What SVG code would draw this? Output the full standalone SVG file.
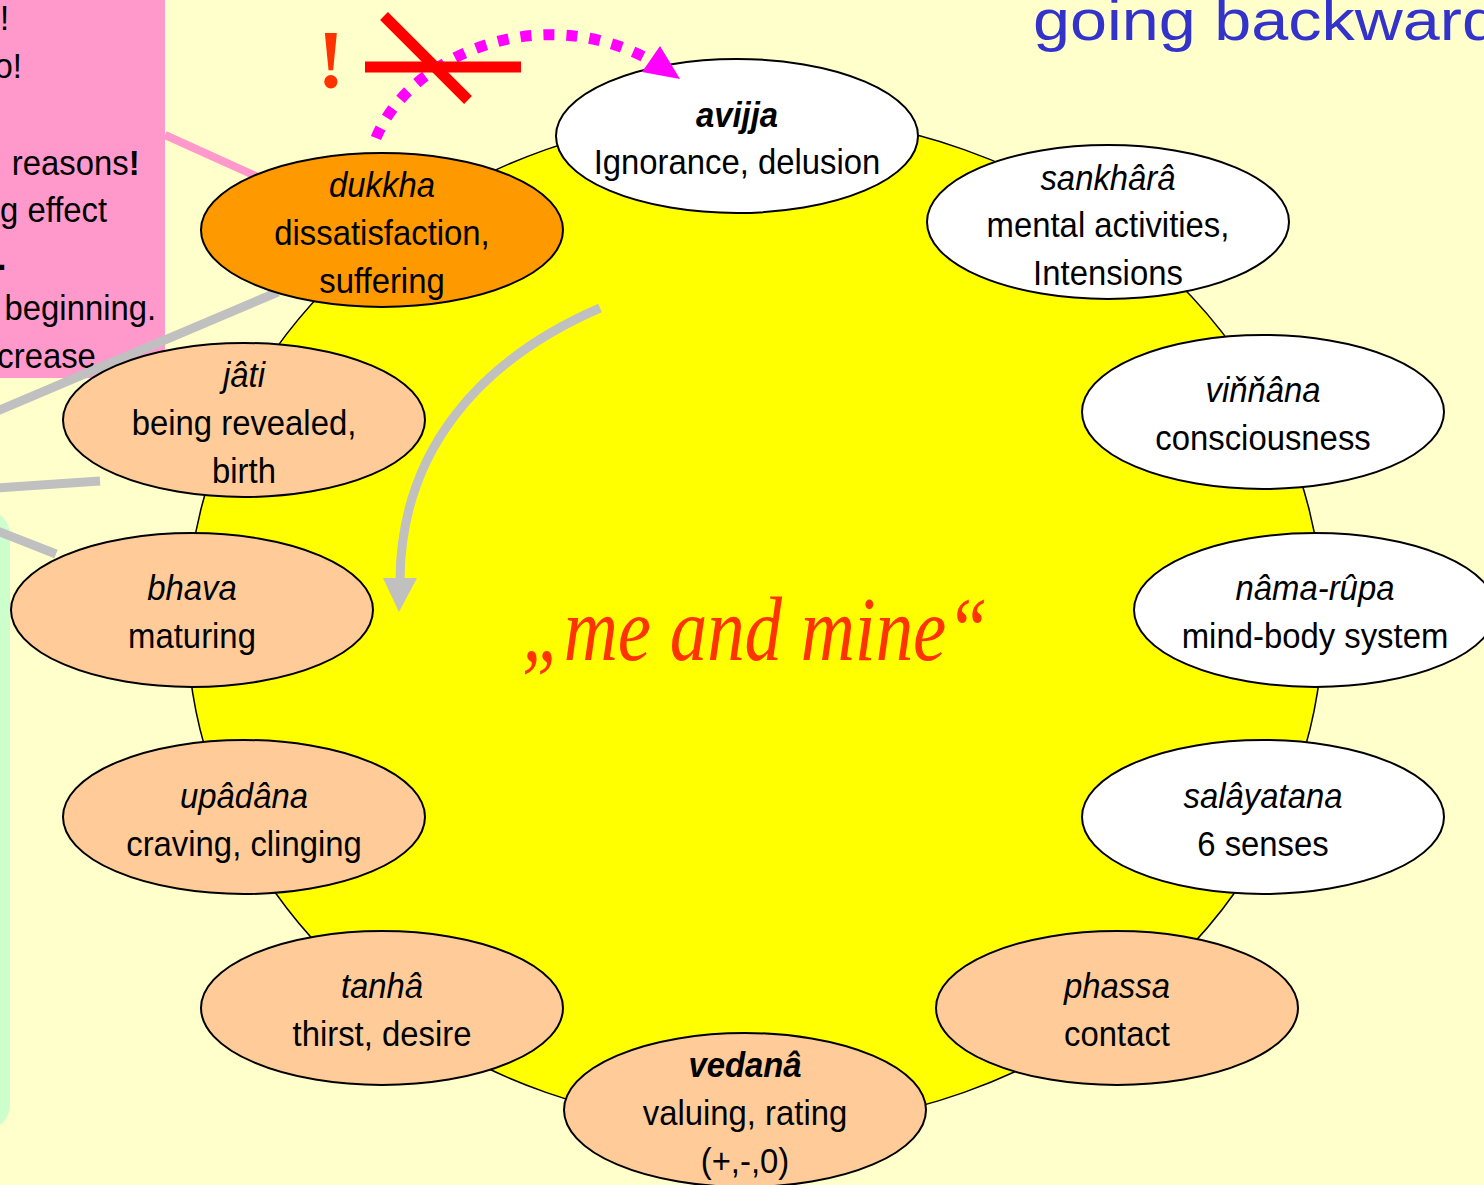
<svg xmlns="http://www.w3.org/2000/svg" width="1484" height="1185" viewBox="0 0 1484 1185">
  <style>
    .bg { fill: #FFFFCC; }
    .node ellipse { stroke: #000; stroke-width: 2; }
    .white { fill: #FFFFFF; }
    .peach { fill: #FFCC99; }
    .orange { fill: #FF9900; }
    .lbl { font-family: "Liberation Sans", Arial, sans-serif; font-size: 36px; fill: #000; text-anchor: middle; }
    .it { font-style: italic; }
    .bi { font-style: italic; font-weight: bold; }
    .note { font-family: "Liberation Sans", Arial, sans-serif; font-size: 36px; fill: #000; }
    .gray { stroke: #C0C0C0; stroke-width: 9; fill: none; }
  </style>

  <rect class="bg" x="0" y="0" width="1484" height="1185"/>

  <!-- side panels -->
  <rect id="greenPanel" x="-40" y="510" width="50" height="620" rx="25" fill="#CCFFCC"/>
  <g id="noteBox">
    <rect x="-40" y="-40" width="205" height="418" rx="30" fill="#FF99CC"/>
    <g transform="scale(0.913,1)">
      <text class="note" x="0" y="30">!</text>
      <text class="note" x="-6" y="78">o!</text>
      <text class="note" x="13" y="175">reasons<tspan font-weight="bold">!</tspan></text>
      <text class="note" x="0" y="222">g effect</text>
      <text class="note" x="-3" y="270" font-weight="bold">.</text>
      <text class="note" x="5" y="320">beginning.</text>
      <text class="note" x="-3" y="368">crease</text>
    </g>
  </g>

  <!-- central field -->
  <ellipse id="field" cx="755" cy="621" rx="568" ry="507" fill="#FFFF00" stroke="#000" stroke-width="1.5"/>

  <!-- connectors drawn beneath the nodes -->
  <g id="connectors">
    <line x1="165" y1="135" x2="258" y2="177" stroke="#FF99CC" stroke-width="8"/>
    <line class="gray" x1="-5" y1="412" x2="278" y2="292"/>
    <line class="gray" x1="-5" y1="488" x2="100" y2="481"/>
    <line class="gray" x1="-5" y1="530" x2="56" y2="554"/>
    <path class="gray" d="M600,308 C480,360 401,450 400,580"/>
    <path d="M383,578 L417,578 L399,612 Z" fill="#C0C0C0"/>
  </g>

  <!-- title -->
  <text x="1033" y="40" font-family="Liberation Sans, Arial, sans-serif" font-size="57" fill="#3333CC" textLength="466" lengthAdjust="spacingAndGlyphs">going backward</text>

  <!-- centre caption -->
  <text x="755" y="660" font-family="Liberation Serif, Times New Roman, serif" font-style="italic" font-size="92" fill="#FF3300" text-anchor="middle" textLength="466" lengthAdjust="spacingAndGlyphs">„me and mine“</text>

  <!-- nodes -->
  <g id="avijja" class="node" transform="translate(737,136)">
    <ellipse class="white" rx="181" ry="77"/>
    <text class="lbl" transform="scale(0.913,1)"><tspan class="bi" x="0" y="-9">avijja</tspan><tspan x="0" y="38">Ignorance, delusion</tspan></text>
  </g>
  <g id="sankhara" class="node" transform="translate(1108,222)">
    <ellipse class="white" rx="181" ry="77"/>
    <text class="lbl" transform="scale(0.913,1)"><tspan class="it" x="0" y="-32">sankhârâ</tspan><tspan x="0" y="15">mental activities,</tspan><tspan x="0" y="63">Intensions</tspan></text>
  </g>
  <g id="vinnana" class="node" transform="translate(1263,412)">
    <ellipse class="white" rx="181" ry="77"/>
    <text class="lbl" transform="scale(0.913,1)"><tspan class="it" x="0" y="-10">viňňâna</tspan><tspan x="0" y="38">consciousness</tspan></text>
  </g>
  <g id="namarupa" class="node" transform="translate(1315,610)">
    <ellipse class="white" rx="181" ry="77"/>
    <text class="lbl" transform="scale(0.913,1)"><tspan class="it" x="0" y="-10">nâma-rûpa</tspan><tspan x="0" y="38">mind-body system</tspan></text>
  </g>
  <g id="salayatana" class="node" transform="translate(1263,817)">
    <ellipse class="white" rx="181" ry="77"/>
    <text class="lbl" transform="scale(0.913,1)"><tspan class="it" x="0" y="-9">salâyatana</tspan><tspan x="0" y="39">6 senses</tspan></text>
  </g>
  <g id="phassa" class="node" transform="translate(1117,1008)">
    <ellipse class="peach" rx="181" ry="77"/>
    <text class="lbl" transform="scale(0.913,1)"><tspan class="it" x="0" y="-10">phassa</tspan><tspan x="0" y="38">contact</tspan></text>
  </g>
  <g id="vedana" class="node" transform="translate(745,1110)">
    <ellipse class="peach" rx="181" ry="77"/>
    <text class="lbl" transform="scale(0.913,1)"><tspan class="bi" x="0" y="-33">vedanâ</tspan><tspan x="0" y="15">valuing, rating</tspan><tspan x="0" y="63">(+,-,0)</tspan></text>
  </g>
  <g id="tanha" class="node" transform="translate(382,1008)">
    <ellipse class="peach" rx="181" ry="77"/>
    <text class="lbl" transform="scale(0.913,1)"><tspan class="it" x="0" y="-10">tanhâ</tspan><tspan x="0" y="38">thirst, desire</tspan></text>
  </g>
  <g id="upadana" class="node" transform="translate(244,817)">
    <ellipse class="peach" rx="181" ry="77"/>
    <text class="lbl" transform="scale(0.913,1)"><tspan class="it" x="0" y="-9">upâdâna</tspan><tspan x="0" y="39">craving, clinging</tspan></text>
  </g>
  <g id="bhava" class="node" transform="translate(192,610)">
    <ellipse class="peach" rx="181" ry="77"/>
    <text class="lbl" transform="scale(0.913,1)"><tspan class="it" x="0" y="-10">bhava</tspan><tspan x="0" y="38">maturing</tspan></text>
  </g>
  <g id="jati" class="node" transform="translate(244,420)">
    <ellipse class="peach" rx="181" ry="77"/>
    <text class="lbl" transform="scale(0.913,1)"><tspan class="it" x="0" y="-33">jâti</tspan><tspan x="0" y="15">being revealed,</tspan><tspan x="0" y="63">birth</tspan></text>
  </g>
  <g id="dukkha" class="node" transform="translate(382,230)">
    <ellipse class="orange" rx="181" ry="77"/>
    <text class="lbl" transform="scale(0.913,1)"><tspan class="it" x="0" y="-33">dukkha</tspan><tspan x="0" y="15">dissatisfaction,</tspan><tspan x="0" y="63">suffering</tspan></text>
  </g>

  <!-- crossed-out shortcut from dukkha back to avijja, drawn over the nodes -->
  <g id="shortcut">
    <path d="M376,138 C410,55 540,0 650,60" fill="none" stroke="#FF00FF" stroke-width="11" stroke-dasharray="11 12"/>
    <path d="M680,79 L660,46 L642,72 Z" fill="#FF00FF"/>
    <line x1="365" y1="67" x2="521" y2="67" stroke="#FF0000" stroke-width="11"/>
    <line x1="384" y1="16" x2="468" y2="100" stroke="#FF0000" stroke-width="11"/>
    <text x="331" y="87" font-family="Liberation Serif, Times New Roman, serif" font-weight="bold" font-size="82" fill="#FF3300" text-anchor="middle">!</text>
  </g>
</svg>
